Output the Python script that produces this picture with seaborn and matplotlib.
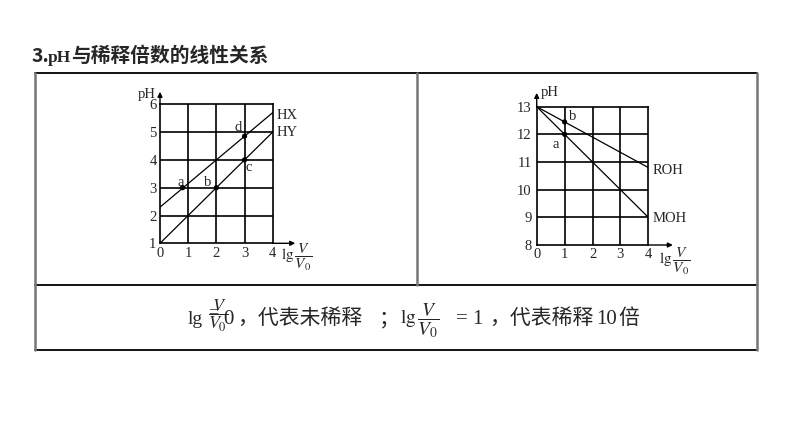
import matplotlib
matplotlib.use("Agg")
import matplotlib.pyplot as plt
import seaborn as sns

# Datos de las dos graficas
hx_x = [0, 4]
hx_y = [2.3, 5.7]
hy_x = [0, 4]
hy_y = [1, 5]
puntos_izq_x = [0.8, 2, 3, 3]
puntos_izq_y = [3, 3, 4, 4.85]
puntos_izq_txt = ["a", "b", "c", "d"]

roh_x = [0, 4]
roh_y = [13, 10.8]
moh_x = [0, 4]
moh_y = [13, 9]
puntos_der_x = [1, 1]
puntos_der_y = [12, 12.45]
puntos_der_txt = ["a", "b"]

ticks_x = [0, 1, 2, 3, 4]
ticks_y_izq = [1, 2, 3, 4, 5, 6]
ticks_y_der = [8, 9, 10, 11, 12, 13]

sns.set_style("white")
plt.rcParams['font.family'] = ['Liberation Serif', 'Noto Sans CJK SC']
plt.rcParams['mathtext.fontset'] = 'stix'

W, H = 794, 447
fig = plt.figure(figsize=(W / 100, H / 100), dpi=100)

# Fondo: tabla y textos en pixeles
bg = fig.add_axes([0, 0, 1, 1], zorder=0)
bg.set_xlim(0, W)
bg.set_ylim(H, 0)
bg.axis("off")

for y in [73, 285, 350]:
    bg.plot([35, 757], [y, y], color="black", lw=1.3)
for x in [35, 757]:
    bg.plot([x, x], [73, 350], color="#777777", lw=1.8)
bg.plot([417, 417], [73, 285], color="#777777", lw=1.8)

# Titulo
bg.text(32, 61.5, "3.", fontsize=14, fontweight="bold", family="Noto Sans CJK SC", va="baseline")
bg.text(48, 61.5, "pH", fontsize=12.5, fontweight="bold", family="Liberation Serif", va="baseline")
bg.text(71, 61.5, "与稀释倍数的线性关系", fontsize=14.2, fontweight="bold",
        family="Noto Sans CJK SC", va="baseline")

# Texto inferior
cjk = "Noto Sans CJK SC"
bg.text(188, 324, "lg", fontsize=14, va="baseline")
bg.text(218, 316, r"$\dfrac{V}{V_0}$", fontsize=13, ha="center", va="center")
bg.text(213, 317, "=", fontsize=13, ha="center", va="baseline")
bg.text(223, 324, "0", fontsize=15, va="baseline")
bg.text(237, 324, "，代表未稀释", fontsize=15, family=cjk, va="baseline")
bg.text(379, 324, "；", fontsize=15, family=cjk, va="baseline")
bg.text(400, 324, r"$\mathrm{lg}\,\dfrac{V}{V_0}$", fontsize=14, va="baseline")
bg.text(456, 324, "= 1", fontsize=15, va="baseline")
bg.text(489, 324, "，代表稀释", fontsize=15, family=cjk, va="baseline")
bg.text(596, 324, "10", fontsize=15, va="baseline")
bg.text(618, 324, "倍", fontsize=15, family=cjk, va="baseline")


def preparar(ax, ticks_y):
    ax.set_xlim(ticks_x[0], ticks_x[-1])
    ax.set_ylim(ticks_y[0], ticks_y[-1])
    ax.set_xticks(ticks_x)
    ax.set_yticks(ticks_y)
    ax.set_xticklabels([str(t) for t in ticks_x], fontsize=10.5)
    ax.set_yticklabels([str(t) for t in ticks_y], fontsize=10.5)
    ax.tick_params(length=0, pad=2.5)
    for s in ax.spines.values():
        s.set_visible(True)
        s.set_color("black")
        s.set_linewidth(1.2)
    for t in ticks_x[1:-1]:
        ax.axvline(t, color="black", lw=1.2)
    for t in ticks_y[1:-1]:
        ax.axhline(t, color="black", lw=1.2)
    ax.set_facecolor("none")
    ax.set_xlabel("")
    ax.set_ylabel("")


def flechas(ax, xmax, ymax):
    props = dict(arrowstyle="-|>", lw=1.0, color="black", mutation_scale=7, shrinkA=0, shrinkB=0)
    ax.annotate("", xy=(0, ymax), xytext=(0, ax.get_ylim()[1]), arrowprops=props, annotation_clip=False)
    ax.annotate("", xy=(xmax, ax.get_ylim()[0]), xytext=(4, ax.get_ylim()[0]), arrowprops=props,
                annotation_clip=False)


# Grafica izquierda
ax1 = fig.add_axes([160 / W, (H - 243.3) / H, 112.7 / W, 139 / H], zorder=2)
sns.lineplot(x=hx_x, y=hx_y, ax=ax1, color="black", lw=0.9)
sns.lineplot(x=hy_x, y=hy_y, ax=ax1, color="black", lw=0.9)
sns.scatterplot(x=puntos_izq_x, y=puntos_izq_y, ax=ax1, color="black", s=14, edgecolor="none", zorder=5)
preparar(ax1, ticks_y_izq)
flechas(ax1, 4.8, 6.45)
pos_izq = [(-0.07, 0.17), (-0.3, 0.2), (0.13, -0.28), (-0.22, 0.33)]
for px, py, t, (dx, dy) in zip(puntos_izq_x, puntos_izq_y, puntos_izq_txt, pos_izq):
    ax1.text(px + dx, py + dy, t, fontsize=10.5, ha="center", va="center")
ax1.text(4.15, 5.61, "HX", fontsize=10.5, va="center", clip_on=False)
ax1.text(4.15, 5.0, "HY", fontsize=10.5, va="center", clip_on=False)
ax1.text(-0.46, 6.36, "pH", fontsize=10.5, ha="center", va="center")
ax1.text(4.3, 0.48, r"$\mathrm{lg}\,\dfrac{V}{V_0}$", fontsize=11, va="center")

# Grafica derecha
ax2 = fig.add_axes([536.7 / W, (H - 245) / H, 111.6 / W, 138.3 / H], zorder=2)
sns.lineplot(x=roh_x, y=roh_y, ax=ax2, color="black", lw=0.9)
sns.lineplot(x=moh_x, y=moh_y, ax=ax2, color="black", lw=0.9)
sns.scatterplot(x=puntos_der_x, y=puntos_der_y, ax=ax2, color="black", s=14, edgecolor="none", zorder=5)
preparar(ax2, ticks_y_der)
ax2.tick_params(axis="y", pad=3.5)
flechas(ax2, 4.88, 13.5)
pos_der = [(-0.32, -0.35), (0.28, 0.18)]
for px, py, t, (dx, dy) in zip(puntos_der_x, puntos_der_y, puntos_der_txt, pos_der):
    ax2.text(px + dx, py + dy, t, fontsize=10.5, ha="center", va="center")
ax2.text(4.17, 10.7, "ROH", fontsize=10.5, va="center", clip_on=False)
ax2.text(4.15, 8.97, "MOH", fontsize=10.5, va="center", clip_on=False)
ax2.text(0.48, 13.5, "pH", fontsize=10.5, ha="center", va="center")
ax2.text(4.4, 7.39, r"$\mathrm{lg}\,\dfrac{V}{V_0}$", fontsize=11, va="center")

fig.savefig("out.png", dpi=100, facecolor="white")
